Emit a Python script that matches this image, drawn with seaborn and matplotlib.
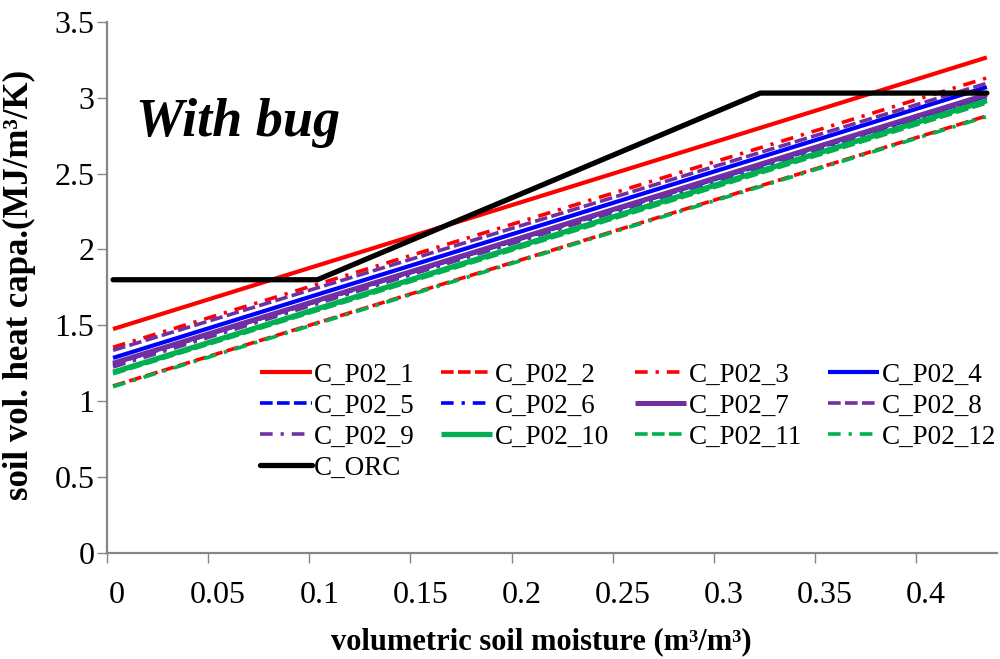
import matplotlib
matplotlib.use('Agg')
import matplotlib.pyplot as plt
import seaborn as sns
import pandas as pd
from matplotlib.transforms import ScaledTranslation

# Data
x_line = [0.003, 0.435]
series_names = ['C_P02_1', 'C_P02_2', 'C_P02_3', 'C_P02_4', 'C_P02_5', 'C_P02_6',
                'C_P02_7', 'C_P02_8', 'C_P02_9', 'C_P02_10', 'C_P02_11', 'C_P02_12']
y_start = [1.475, 1.10, 1.355, 1.285, 1.245, 1.235, 1.25, 1.335, 1.225, 1.19, 1.18, 1.095]
y_end = [3.265, 2.88, 3.13, 3.07, 3.01, 3.00, 3.02, 3.095, 3.01, 2.98, 2.965, 2.875]
orc_x = [0.003, 0.104, 0.323, 0.435]
orc_y = [1.8, 1.8, 3.03, 3.03]
x_ticks = [0, 0.05, 0.1, 0.15, 0.2, 0.25, 0.3, 0.35, 0.4]
x_tick_labels = ['0', '0.05', '0.1', '0.15', '0.2', '0.25', '0.3', '0.35', '0.4']
y_ticks = [0, 0.5, 1, 1.5, 2, 2.5, 3, 3.5]
y_tick_labels = ['0', '0.5', '1', '1.5', '2', '2.5', '3', '3.5']

# styles
red, blue, purple, green = '#FF0000', '#0000FF', '#7030A0', '#00B050'
colors = [red, red, red, blue, blue, blue, purple, purple, purple, green, green, green]
solid = '-'
dash = (0, (3.5, 1.2))
dashdot = (0, (3.5, 2.2, 0.9, 2.2))
styles = [solid, dash, dashdot] * 4
widths = [3.0, 2.6, 2.6, 3.0, 2.6, 2.6, 3.6, 2.6, 2.6, 3.8, 2.6, 2.6]

sns.set_theme(style='white')
plt.rcParams['font.family'] = ['Liberation Serif', 'DejaVu Serif']
plt.rcParams['text.color'] = 'black'
plt.rcParams['xtick.labelcolor'] = 'black'
plt.rcParams['ytick.labelcolor'] = 'black'
plt.rcParams['axes.labelcolor'] = 'black'

fig = plt.figure(figsize=(10, 6.59), dpi=100, facecolor='white')
ax = fig.add_axes([0.107, 0.161, 0.89, 0.806])

for name, y0, y1, c, ls, lw in zip(series_names, y_start, y_end, colors, styles, widths):
    d = pd.DataFrame({'x': x_line, 'y': [y0, y1]})
    sns.lineplot(data=d, x='x', y='y', ax=ax, color=c, linestyle=ls, linewidth=lw,
                 label=name, solid_capstyle='butt', dash_capstyle='butt')

d_orc = pd.DataFrame({'x': orc_x, 'y': orc_y})
sns.lineplot(data=d_orc, x='x', y='y', ax=ax, color='black', linewidth=3.8,
             label='C_ORC', sort=False)

ax.set_xlim(0, 0.44)
ax.set_ylim(0, 3.5)
ax.set_xticks(x_ticks)
ax.set_xticklabels(x_tick_labels)
ax.set_yticks(y_ticks)
ax.set_yticklabels(y_tick_labels)

for s in ['top', 'right']:
    ax.spines[s].set_visible(False)
for s in ['left', 'bottom']:
    ax.spines[s].set_color('#868686')
    ax.spines[s].set_linewidth(1.6)

ax.tick_params(axis='x', direction='out', length=7, width=1, color='#868686',
               labelsize=23, pad=13, bottom=True, labelcolor='black')
ax.tick_params(axis='y', direction='out', length=7, width=1, color='#868686',
               labelsize=23, pad=2, left=True, labelcolor='black')
for lbl in ax.get_xticklabels():
    lbl.set_transform(lbl.get_transform() + ScaledTranslation(0.1, 0, fig.dpi_scale_trans))

ax.set_xlabel('volumetric soil moisture (m³/m³)', fontsize=22, fontweight='bold', color='black')
ax.xaxis.set_label_coords(0.488, -0.14)
ax.set_ylabel('soil vol. heat capa.(MJ/m³/K)', fontsize=25, fontweight='bold', color='black')
ax.yaxis.set_label_coords(-0.08, 0.505)

ax.text(0.033, 0.785, 'With bug', transform=ax.transAxes, fontsize=39,
        fontweight='bold', fontstyle='italic', va='baseline', ha='left', color='black')

# legend laid out row by row like the original
handles, labels = ax.get_legend_handles_labels()
order = [0, 4, 8, 12, 1, 5, 9, 2, 6, 10, 3, 7, 11]
leg = ax.legend([handles[i] for i in order], [labels[i] for i in order], ncol=4,
                loc='upper left', bbox_to_anchor=(0.172, 0.358), frameon=False,
                fontsize=19.5, handlelength=1.9, handletextpad=0.1,
                columnspacing=0.95, labelspacing=0.22, borderpad=0, borderaxespad=0)
for t in leg.get_texts():
    t.set_color('black')

fig.savefig('out.png', dpi=100, facecolor='white')
